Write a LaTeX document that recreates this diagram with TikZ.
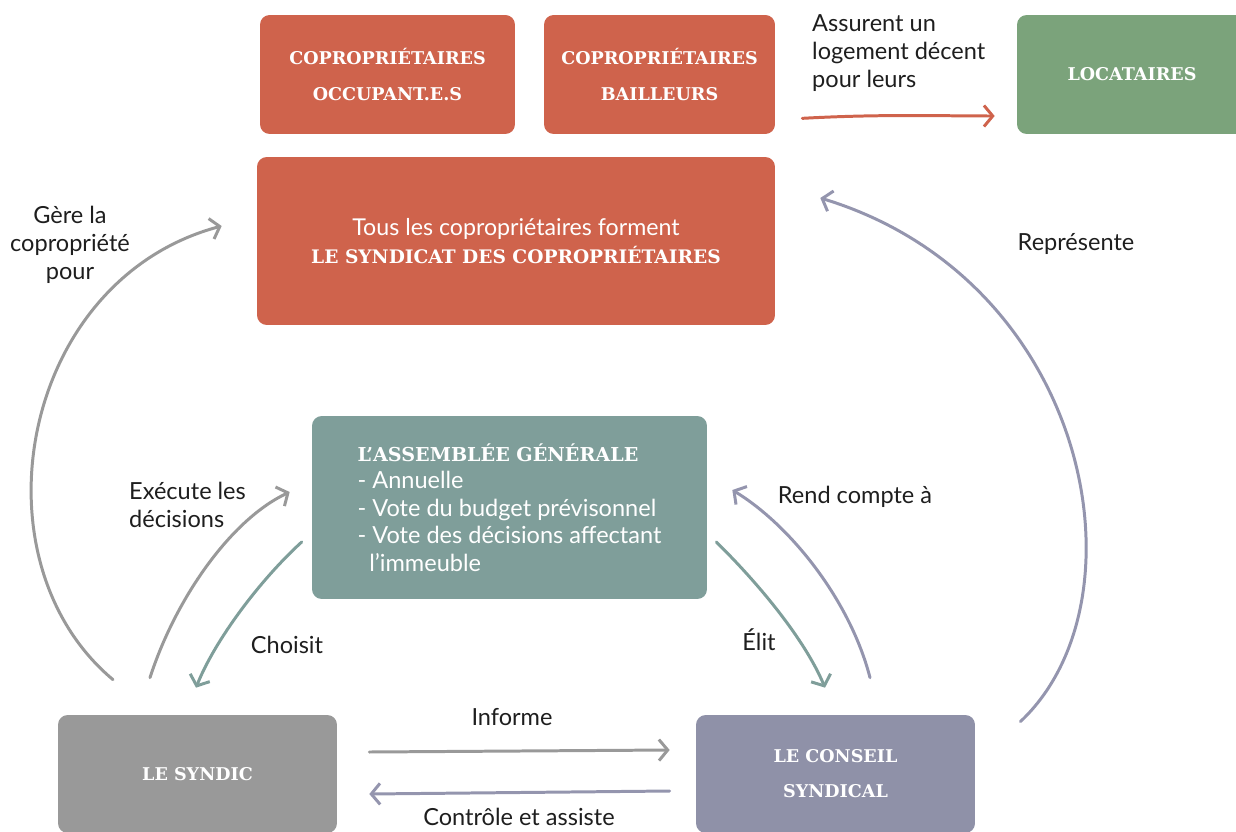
\documentclass[tikz,border=0pt]{standalone}
\usepackage{fontspec}
\setmainfont{Lato}
\newfontfamily\slab{DejaVu Serif}
\usetikzlibrary{arrows.meta, positioning, calc}

\definecolor{brique}{HTML}{CF634C}
\definecolor{sauge}{HTML}{7BA37B}
\definecolor{gris}{HTML}{999999}
\definecolor{canard}{HTML}{7F9E9A}
\definecolor{lavande}{HTML}{8F91A8}
\definecolor{trait}{HTML}{9495AE}
\definecolor{encre}{HTML}{1E1E1E}

\tikzset{
    boite/.style={rectangle, rounded corners=5.5pt, text=white, align=center,
        font=\slab\bfseries\fontsize{10}{20}\selectfont},
    etiquette/.style={text=encre, align=center, font=\fontsize{13.4}{15.9}\selectfont},
    fleche/.style={line width=1.7pt, line cap=round,
        -{Straight Barb[length=5pt, width=12pt, line width=1.7pt]}},
}

\begin{document}
\begin{tikzpicture}[x=0.02cm, y=-0.02cm]
    \clip (0,0) rectangle (1236,831);

    % les boites
    \node[boite, fill=brique, minimum width=5.1cm, minimum height=2.38cm] (occupants) at (387.5,74.5) {COPROPRIÉTAIRES\\OCCUPANT.E.S};
    \node[boite, fill=brique, minimum width=4.62cm, minimum height=2.38cm] (bailleurs) at (659.5,74.5) {COPROPRIÉTAIRES\\BAILLEURS};
    \node[boite, fill=sauge, minimum width=4.6cm, minimum height=2.38cm] (locataires) at (1132,74.5) {LOCATAIRES};
    \node[boite, fill=brique, minimum width=10.36cm, minimum height=3.36cm, font=\fontsize{13.2}{16.4}\selectfont] (syndicat) at (516,241)
        {Tous les copropriétaires forment\\{\slab\bfseries\fontsize{10.6}{16.4}\selectfont LE SYNDICAT DES COPROPRIÉTAIRES}};
    \node[boite, fill=canard, minimum width=7.9cm, minimum height=3.66cm, align=left, font=\fontsize{13.4}{15.6}\selectfont] (assemblee) at (509.5,507.5)
        {{\slab\bfseries\fontsize{10.9}{19}\selectfont L’ASSEMBLÉE GÉNÉRALE}\\- Annuelle\\- Vote du budget prévisonnel\\- Vote des décisions affectant\\\hspace{0.5em}l’immeuble};
    \node[boite, fill=gris, minimum width=5.58cm, minimum height=2.36cm] (syndic) at (197.5,774) {LE SYNDIC};
    \node[boite, fill=lavande, minimum width=5.58cm, minimum height=2.36cm] (conseil) at (835.5,774) {LE CONSEIL\\SYNDICAL};

    % les fleches
    \draw[fleche, brique] ($(bailleurs.south east)+(27,-16)$) .. controls (880,114) and (940,116) .. ($(locataires.west)+(-22,41.5)$);
    \draw[fleche, gris] ($(syndic.north)+(-84.5,-35)$) .. controls (-30,560) and (20,280) .. ($(syndicat.west)+(-35,-15)$);
    \draw[fleche, trait] ($(conseil.north east)+(45,7)$) .. controls (1150,600) and (1090,280) .. ($(syndicat.east)+(45,-43)$);
    \draw[fleche, gris] ($(syndic.north)+(-47.5,-37)$) .. controls (175,600) and (230,520) .. ($(assemblee.west)+(-22,-15.5)$);
    \draw[fleche, canard] ($(assemblee.west)+(-10,34.5)$) .. controls (260,580) and (215,640) .. ($(syndic.north)+(-1.5,-27)$);
    \draw[fleche, canard] ($(assemblee.east)+(9,34.5)$) .. controls (760,585) and (805,640) .. ($(conseil.north)+(-10.5,-27)$);
    \draw[fleche, trait] ($(conseil.north)+(34.5,-37)$) .. controls (850,600) and (790,525) .. ($(assemblee.east)+(25,-17.5)$);
    \draw[fleche, gris] ($(syndic.east)+(32,-22)$) -- ($(conseil.west)+(-26,-24)$);
    \draw[fleche, trait] ($(conseil.west)+(-26,17)$) -- ($(syndic.east)+(32,20)$);

    % les etiquettes
    \node[etiquette, align=left, anchor=west] (assurent) at (806,53) {Assurent un\\logement décent\\pour leurs};
    \node[etiquette] (gere) at (70,245) {Gère la\\copropriété\\pour};
    \node[etiquette] (represente) at (1076,244) {Représente};
    \node[etiquette, align=left, anchor=west] (execute) at (123,505) {Exécute les\\décisions};
    \node[etiquette] (choisit) at (287,645) {Choisit};
    \node[etiquette] (elit) at (759,640) {Élit};
    \node[etiquette] (rend) at (855,497) {Rend compte à};
    \node[etiquette] (informe) at (512,717) {Informe};
    \node[etiquette] (controle) at (519,817) {Contrôle et assiste};
\end{tikzpicture}
\end{document}
